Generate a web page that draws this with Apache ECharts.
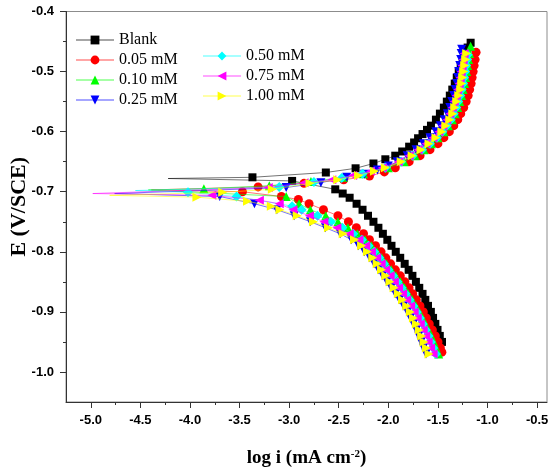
<!DOCTYPE html>
<html>
<head>
<meta charset="utf-8">
<script src="https://cdn.jsdelivr.net/npm/echarts@6.0.0/dist/echarts.min.js"></script>
<style>
html,body{margin:0;padding:0;background:#fff;}
#chart{width:556px;height:472px;}
</style>
</head>
<body>
<div id="chart"></div>
<script>
// Tick values
const xMajor = [-5.0,-4.5,-4.0,-3.5,-3.0,-2.5,-2.0,-1.5,-1.0,-0.5];
const xMinor = [-4.75,-4.25,-3.75,-3.25,-2.75,-2.25,-1.75,-1.25,-0.75];
const yMajor = [-1.0,-0.9,-0.8,-0.7,-0.6,-0.5,-0.4];
const yMinor = [-0.95,-0.85,-0.75,-0.65,-0.55,-0.45];

const seriesNames = ['Blank','0.05 mM','0.10 mM','0.25 mM','0.50 mM','0.75 mM','1.00 mM'];

// Data: [log i, E] pairs — cathodic branch, Ecorr tip (no marker), anodic branch
const blankCath = [[-1.459,-0.95],[-1.481,-0.94],[-1.504,-0.93],[-1.526,-0.92],[-1.549,-0.91],[-1.571,-0.90],[-1.600,-0.89],[-1.627,-0.88],[-1.655,-0.87],[-1.688,-0.86],[-1.722,-0.85],[-1.757,-0.84],[-1.795,-0.83],[-1.835,-0.82],[-1.88,-0.81],[-1.925,-0.80],[-1.968,-0.79],[-2.01,-0.78],[-2.055,-0.77],[-2.10,-0.76],[-2.15,-0.75],[-2.205,-0.74],[-2.26,-0.73],[-2.32,-0.72],[-2.39,-0.71],[-2.46,-0.703],[-2.535,-0.696],[-2.97,-0.682]];
const blankTip = [[-4.22,-0.678]];
const blankAnod = [[-3.37,-0.676],[-2.63,-0.668],[-2.33,-0.661],[-2.15,-0.653],[-2.03,-0.646],[-1.93,-0.64],[-1.86,-0.633],[-1.79,-0.625],[-1.74,-0.618],[-1.70,-0.611],[-1.655,-0.604],[-1.61,-0.597],[-1.57,-0.59],[-1.52,-0.58],[-1.48,-0.57],[-1.44,-0.56],[-1.41,-0.55],[-1.38,-0.54],[-1.355,-0.53],[-1.33,-0.52],[-1.31,-0.51],[-1.29,-0.50],[-1.27,-0.49],[-1.25,-0.48],[-1.225,-0.47],[-1.20,-0.46],[-1.17,-0.452]];

const redCath = [[-1.46,-0.967],[-1.475,-0.96],[-1.499,-0.95],[-1.526,-0.94],[-1.556,-0.93],[-1.587,-0.92],[-1.617,-0.91],[-1.647,-0.90],[-1.681,-0.89],[-1.717,-0.88],[-1.754,-0.87],[-1.791,-0.86],[-1.833,-0.85],[-1.879,-0.84],[-1.929,-0.83],[-1.977,-0.82],[-2.025,-0.81],[-2.073,-0.80],[-2.129,-0.79],[-2.19,-0.78],[-2.25,-0.77],[-2.322,-0.76],[-2.402,-0.75],[-2.508,-0.74],[-2.654,-0.73],[-2.799,-0.72],[-2.907,-0.713],[-3.078,-0.708],[-3.471,-0.70]];
const redTip = [[-4.39,-0.697]];
const redAnod = [[-3.313,-0.692],[-2.85,-0.686],[-2.45,-0.68],[-2.19,-0.674],[-2.04,-0.667],[-1.93,-0.66],[-1.79,-0.65],[-1.68,-0.64],[-1.58,-0.63],[-1.50,-0.62],[-1.44,-0.61],[-1.385,-0.60],[-1.34,-0.59],[-1.30,-0.58],[-1.27,-0.57],[-1.24,-0.56],[-1.215,-0.55],[-1.195,-0.54],[-1.18,-0.53],[-1.165,-0.52],[-1.155,-0.51],[-1.145,-0.50],[-1.135,-0.49],[-1.125,-0.48],[-1.115,-0.468]];

const greenCath = [[-1.492,-0.97],[-1.517,-0.96],[-1.541,-0.95],[-1.567,-0.94],[-1.596,-0.93],[-1.626,-0.92],[-1.656,-0.91],[-1.686,-0.90],[-1.721,-0.89],[-1.759,-0.88],[-1.798,-0.87],[-1.836,-0.86],[-1.878,-0.85],[-1.923,-0.84],[-1.971,-0.83],[-2.018,-0.82],[-2.065,-0.81],[-2.114,-0.80],[-2.171,-0.79],[-2.235,-0.78],[-2.312,-0.77],[-2.407,-0.76],[-2.508,-0.75],[-2.631,-0.74],[-2.786,-0.73],[-2.90,-0.72],[-3.03,-0.708]];
const greenTip = [[-4.42,-0.697]];
const greenAnod = [[-3.86,-0.695],[-3.20,-0.690],[-2.78,-0.683],[-2.45,-0.676],[-2.25,-0.67],[-2.00,-0.66],[-1.84,-0.65],[-1.73,-0.64],[-1.64,-0.63],[-1.565,-0.62],[-1.50,-0.61],[-1.44,-0.60],[-1.395,-0.59],[-1.355,-0.58],[-1.325,-0.57],[-1.30,-0.56],[-1.28,-0.55],[-1.26,-0.54],[-1.245,-0.53],[-1.23,-0.52],[-1.22,-0.51],[-1.21,-0.50],[-1.20,-0.49],[-1.19,-0.48],[-1.18,-0.47],[-1.17,-0.458]];

const blueCath = [[-1.620,-0.97],[-1.646,-0.96],[-1.670,-0.95],[-1.694,-0.94],[-1.718,-0.93],[-1.747,-0.92],[-1.777,-0.91],[-1.808,-0.90],[-1.845,-0.89],[-1.887,-0.88],[-1.929,-0.87],[-1.972,-0.86],[-2.014,-0.85],[-2.056,-0.84],[-2.099,-0.83],[-2.142,-0.82],[-2.187,-0.81],[-2.241,-0.80],[-2.300,-0.79],[-2.371,-0.78],[-2.485,-0.77],[-2.634,-0.76],[-2.785,-0.75],[-2.949,-0.74],[-3.123,-0.73],[-3.35,-0.72],[-3.70,-0.708]];
const blueTip = [[-4.76,-0.703]];
const blueAnod = [[-3.03,-0.693],[-2.68,-0.685],[-2.42,-0.676],[-2.24,-0.671],[-2.11,-0.664],[-2.00,-0.657],[-1.91,-0.65],[-1.81,-0.64],[-1.72,-0.63],[-1.645,-0.62],[-1.58,-0.61],[-1.52,-0.60],[-1.475,-0.59],[-1.435,-0.58],[-1.405,-0.57],[-1.38,-0.56],[-1.36,-0.55],[-1.34,-0.54],[-1.325,-0.53],[-1.31,-0.52],[-1.30,-0.51],[-1.29,-0.50],[-1.28,-0.49],[-1.27,-0.48],[-1.265,-0.47],[-1.26,-0.463]];

const cyanCath = [[-1.520,-0.97],[-1.546,-0.96],[-1.570,-0.95],[-1.595,-0.94],[-1.622,-0.93],[-1.652,-0.92],[-1.682,-0.91],[-1.713,-0.90],[-1.748,-0.89],[-1.787,-0.88],[-1.827,-0.87],[-1.867,-0.86],[-1.909,-0.85],[-1.953,-0.84],[-1.999,-0.83],[-2.045,-0.82],[-2.091,-0.81],[-2.142,-0.80],[-2.200,-0.79],[-2.266,-0.78],[-2.353,-0.77],[-2.463,-0.76],[-2.579,-0.75],[-2.714,-0.74],[-2.874,-0.73],[-2.97,-0.724],[-3.53,-0.708],[-4.02,-0.701]];
const cyanTip = [[-4.55,-0.698]];
const cyanAnod = [[-3.10,-0.692],[-2.75,-0.684],[-2.47,-0.677],[-2.26,-0.67],[-2.03,-0.66],[-1.87,-0.65],[-1.755,-0.64],[-1.66,-0.63],[-1.58,-0.62],[-1.51,-0.61],[-1.455,-0.60],[-1.41,-0.59],[-1.37,-0.58],[-1.34,-0.57],[-1.315,-0.56],[-1.295,-0.55],[-1.275,-0.54],[-1.26,-0.53],[-1.245,-0.52],[-1.235,-0.51],[-1.225,-0.50],[-1.215,-0.49],[-1.205,-0.48],[-1.20,-0.472]];

const magCath = [[-1.548,-0.97],[-1.574,-0.96],[-1.598,-0.95],[-1.623,-0.94],[-1.648,-0.93],[-1.678,-0.92],[-1.708,-0.91],[-1.739,-0.90],[-1.775,-0.89],[-1.815,-0.88],[-1.856,-0.87],[-1.897,-0.86],[-1.939,-0.85],[-1.982,-0.84],[-2.027,-0.83],[-2.072,-0.82],[-2.117,-0.81],[-2.170,-0.80],[-2.228,-0.79],[-2.296,-0.78],[-2.394,-0.77],[-2.519,-0.76],[-2.649,-0.75],[-2.796,-0.74],[-2.961,-0.73],[-3.10,-0.72],[-3.30,-0.714],[-3.78,-0.706]];
const magTip = [[-4.98,-0.703]];
const magAnod = [[-3.21,-0.693],[-2.85,-0.685],[-2.57,-0.68],[-2.36,-0.673],[-2.18,-0.666],[-2.06,-0.66],[-1.90,-0.65],[-1.79,-0.64],[-1.70,-0.63],[-1.62,-0.62],[-1.55,-0.61],[-1.49,-0.60],[-1.45,-0.59],[-1.41,-0.58],[-1.38,-0.57],[-1.355,-0.56],[-1.335,-0.55],[-1.315,-0.54],[-1.30,-0.53],[-1.285,-0.52],[-1.275,-0.51],[-1.265,-0.50],[-1.255,-0.49],[-1.245,-0.48],[-1.235,-0.47]];

const yellowCath = [[-1.590,-0.97],[-1.616,-0.96],[-1.640,-0.95],[-1.664,-0.94],[-1.688,-0.93],[-1.717,-0.92],[-1.747,-0.91],[-1.778,-0.90],[-1.815,-0.89],[-1.857,-0.88],[-1.899,-0.87],[-1.942,-0.86],[-1.984,-0.85],[-2.026,-0.84],[-2.069,-0.83],[-2.112,-0.82],[-2.157,-0.81],[-2.211,-0.80],[-2.270,-0.79],[-2.341,-0.78],[-2.455,-0.77],[-2.604,-0.76],[-2.755,-0.75],[-2.919,-0.74],[-3.093,-0.73],[-3.18,-0.724],[-3.42,-0.716],[-3.93,-0.709]];
const yellowTip = [[-4.81,-0.706]];
const yellowAnod = [[-3.67,-0.701],[-3.17,-0.696],[-2.79,-0.686],[-2.51,-0.68],[-2.30,-0.673],[-2.14,-0.666],[-2.03,-0.66],[-1.87,-0.65],[-1.76,-0.64],[-1.67,-0.63],[-1.59,-0.62],[-1.52,-0.61],[-1.46,-0.60],[-1.42,-0.59],[-1.38,-0.58],[-1.35,-0.57],[-1.33,-0.56],[-1.31,-0.55],[-1.29,-0.54],[-1.27,-0.53],[-1.26,-0.52],[-1.25,-0.51],[-1.24,-0.50],[-1.23,-0.49],[-1.22,-0.48],[-1.21,-0.47]];

const seriesData = [
  [blankCath, blankTip, blankAnod],
  [redCath, redTip, redAnod],
  [greenCath, greenTip, greenAnod],
  [blueCath, blueTip, blueAnod],
  [cyanCath, cyanTip, cyanAnod],
  [magCath, magTip, magAnod],
  [yellowCath, yellowTip, yellowAnod]
];

const colors = ['#000000','#ff0000','#00ff00','#0000ff','#00ffff','#ff00ff','#ffff00'];
const symbols = ['rect','circle','triangle','triangle','diamond','triangle','triangle'];
const rotations = [0,0,0,180,0,90,-90];
const sizes = [8,9,9,9,10,9,9];

function build(parts){
  const [c,t,a] = parts;
  return c.map(p=>p)
    .concat(t.map(p=>({value:p, symbol:'none'})))
    .concat(a.map(p=>p));
}

const series = seriesNames.map((name,i)=>({
  name: name,
  type: 'line',
  data: build(seriesData[i]),
  symbol: symbols[i],
  symbolRotate: rotations[i],
  symbolSize: sizes[i],
  showAllSymbol: true,
  animation: false,
  color: colors[i],
  itemStyle: {color: colors[i], borderWidth: 0},
  lineStyle: {color: colors[i], width: 1, opacity: 0.55},
  emphasis: {disabled: true},
  z: 2 + i
}));

const tickFont = {fontFamily: 'Liberation Sans, Arial, sans-serif', fontWeight: 'bold', fontSize: 13, color: '#000'};
const legendText = {fontFamily: 'Liberation Serif, Times New Roman, serif', fontSize: 16, color: '#000', lineHeight: 16};

const chart = echarts.init(document.getElementById('chart'), null, {renderer: 'canvas'});
chart.setOption({
  backgroundColor: '#ffffff',
  animation: false,
  grid: {left: 66, right: 9, top: 11.5, bottom: 70, containLabel: false, outerBoundsMode: 'none', show: true, borderColor: '#8c8c8c', borderWidth: 1, backgroundColor: 'transparent'},
  legend: [
    {data: seriesNames.slice(0,4), orient: 'vertical', left: 75, top: 32, padding: 0, itemWidth: 38, itemHeight: 11, itemGap: 4, textStyle: legendText, selectedMode: false, symbolRotate: 'inherit', lineStyle: {opacity: 0.35}},
    {data: seriesNames.slice(4), orient: 'vertical', left: 202, top: 48, padding: 0, itemWidth: 38, itemHeight: 11, itemGap: 4, textStyle: legendText, selectedMode: false, symbolRotate: 'inherit', lineStyle: {opacity: 0.35}}
  ],
  xAxis: [
    {type: 'value', min: -5.25, max: -0.4, position: 'bottom',
     name: '{a|log i (mA cm}{s|-2}{a|)}', nameLocation: 'middle', nameGap: 47, nameMoveOverlap: false,
     nameTextStyle: {rich: {
        a: {fontFamily: 'Liberation Serif, Times New Roman, serif', fontWeight: 'bold', fontSize: 19, color: '#000'},
        s: {fontFamily: 'Liberation Serif, Times New Roman, serif', fontWeight: 'bold', fontSize: 11, color: '#000', verticalAlign: 'top', padding: [0,0,8,0]}
     }},
     axisLine: {show: true, onZero: false, lineStyle: {color: '#333', width: 1}},
     axisTick: {show: true, inside: false, length: 6, customValues: xMajor, lineStyle: {color: '#333'}},
     axisLabel: {show: true, margin: 12, customValues: xMajor, formatter: v => Number(v).toFixed(1), ...tickFont},
     splitLine: {show: false}},
    {type: 'value', min: -5.25, max: -0.4, position: 'bottom',
     axisLine: {show: false, onZero: false},
     axisTick: {show: true, inside: false, length: 3, customValues: xMinor, lineStyle: {color: '#333'}},
     axisLabel: {show: false}, splitLine: {show: false}}
  ],
  yAxis: [
    {type: 'value', min: -1.05, max: -0.4, position: 'left',
     name: 'E (V/SCE)', nameLocation: 'middle', nameGap: 36, nameRotate: 90, nameMoveOverlap: false,
     nameTextStyle: {fontFamily: 'Liberation Serif, Times New Roman, serif', fontWeight: 'bold', fontSize: 22, color: '#000'},
     axisLine: {show: true, onZero: false, lineStyle: {color: '#333', width: 1}},
     axisTick: {show: true, inside: false, length: 6, customValues: yMajor, lineStyle: {color: '#333'}},
     axisLabel: {show: true, margin: 12, customValues: yMajor, formatter: v => Number(v).toFixed(1), ...tickFont},
     splitLine: {show: false}},
    {type: 'value', min: -1.05, max: -0.4, position: 'left',
     axisLine: {show: false, onZero: false},
     axisTick: {show: true, inside: false, length: 3, customValues: yMinor, lineStyle: {color: '#333'}},
     axisLabel: {show: false}, splitLine: {show: false}}
  ],
  series: series
});
</script>
</body>
</html>
